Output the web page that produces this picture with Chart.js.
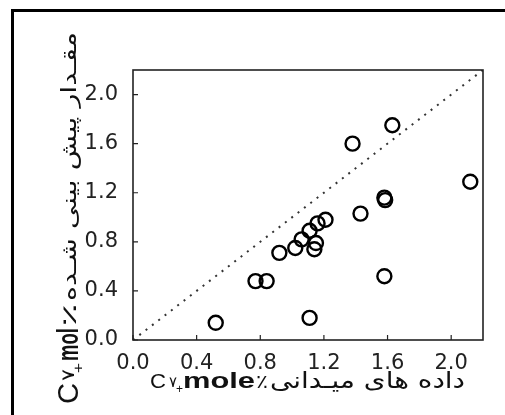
<!DOCTYPE html>
<html>
<head>
<meta charset="utf-8">
<script src="https://cdn.jsdelivr.net/npm/chart.js@4/dist/chart.umd.min.js"></script>
<style>
html,body{margin:0;padding:0;background:#fff;}
#wrap{position:relative;width:505px;height:415px;}
</style>
</head>
<body>
<div id="wrap"><canvas id="c" width="505" height="415"></canvas></div>
<script>
// ---- data ----
const fieldX = [0.52, 1.11, 0.77, 0.84, 0.92, 1.02, 1.06, 1.11, 1.14, 1.15, 1.16, 1.21, 1.38, 1.63, 1.43, 1.58, 1.585, 1.58, 2.12];
const predY  = [0.14, 0.18, 0.48, 0.48, 0.71, 0.75, 0.82, 0.89, 0.74, 0.79, 0.95, 0.98, 1.60, 1.75, 1.03, 1.16, 1.14, 0.52, 1.29];
const refLine = [0, 2.2];                 // y = x reference line end points
const tickValues = [0, 0.4, 0.8, 1.2, 1.6, 2.0];
const tickLabels = ["0.0", "0.4", "0.8", "1.2", "1.6", "2.0"];
const axisMin = 0, axisMax = 2.2;

const points = fieldX.map((x, i) => ({x: x, y: predY[i]}));
const line = refLine.map(v => ({x: v, y: v}));

function drawPieces(ctx, pieces) {
  pieces.forEach(p => {
    ctx.save();
    ctx.font = p.font;
    ctx.textBaseline = 'alphabetic';
    ctx.textAlign = 'left';
    ctx.fillStyle = '#111';
    const w = ctx.measureText(p.t).width;
    ctx.translate(p.u0, p.v);
    ctx.scale((p.u1 - p.u0) / w, 1);
    ctx.fillText(p.t, 0, 0);
    ctx.restore();
  });
}

const decor = {
  id: 'decor',
  beforeDraw(chart) {
    const ctx = chart.ctx;
    ctx.save();
    ctx.fillStyle = '#fff';
    ctx.fillRect(0, 0, chart.width, chart.height);
    ctx.fillStyle = '#000';
    ctx.fillRect(11, 9, 3, chart.height);
    ctx.fillRect(11, 9, chart.width, 3);
    ctx.restore();
  },
  afterDraw(chart) {
    const ctx = chart.ctx;
    const a = chart.chartArea;
    const xs = chart.scales.x, ys = chart.scales.y;
    ctx.save();
    ctx.strokeStyle = '#222';
    ctx.lineWidth = 1.6;
    ctx.strokeRect(a.left, a.top, a.right - a.left, a.bottom - a.top);
    ctx.lineWidth = 1.2;
    ctx.beginPath();
    tickValues.forEach(v => {
      const px = xs.getPixelForValue(v);
      ctx.moveTo(px, a.bottom); ctx.lineTo(px, a.bottom - 5);
      const py = ys.getPixelForValue(v);
      ctx.moveTo(a.left, py); ctx.lineTo(a.left + 5, py);
    });
    ctx.stroke();
    ctx.restore();

    // x-axis title (mixed Latin / Persian)
    const bx = 388;
    drawPieces(ctx, [
      {t: 'C', font: '21px "Liberation Sans"', u0: 150, u1: 166, v: bx},
      {t: '۷', font: '15px "DejaVu Sans"', u0: 169, u1: 177, v: bx - 1},
      {t: '+', font: '12px "Liberation Sans"', u0: 176, u1: 183, v: bx + 5},
      {t: 'mole', font: 'bold 22px "Liberation Sans"', u0: 183, u1: 255, v: bx},
      {t: '٪', font: '19px "DejaVu Sans"', u0: 256, u1: 268, v: bx},
      {t: 'داده های میـدانی', font: '23px "DejaVu Sans"', u0: 270, u1: 465, v: bx}
    ]);

    // y-axis title, rotated
    ctx.save();
    ctx.translate(77, 0);
    ctx.rotate(-Math.PI / 2);
    drawPieces(ctx, [
      {t: 'C', font: '30px "Liberation Sans"', u0: -404, u1: -383, v: 1},
      {t: '۷', font: '18px "DejaVu Sans"', u0: -381, u1: -369, v: -3},
      {t: '+', font: '14px "Liberation Sans"', u0: -373, u1: -363, v: 6},
      {t: 'mol', font: 'bold 30px "Liberation Sans"', u0: -361, u1: -328, v: 1},
      {t: '٪', font: '20px "DejaVu Sans"', u0: -327, u1: -303, v: -1},
      {t: 'مقـدار پیش بینی شـده', font: '21px "DejaVu Sans"', u0: -301, u1: -32, v: -1}
    ]);
    ctx.restore();
  }
};

const tickFont = {family: '"DejaVu Sans"', size: 21};

new Chart(document.getElementById('c'), {
  data: {
    datasets: [
      {
        type: 'scatter',
        data: points,
        pointStyle: 'circle',
        pointRadius: 7,
        pointHoverRadius: 7,
        borderColor: '#000',
        backgroundColor: 'rgba(0,0,0,0)',
        borderWidth: 2.4,
        order: 1
      },
      {
        type: 'line',
        data: line,
        borderColor: '#333',
        borderWidth: 2,
        borderDash: [2, 6],
        pointRadius: 0,
        fill: false,
        order: 2
      }
    ]
  },
  options: {
    responsive: false,
    animation: false,
    events: [],
    layout: {padding: {top: 70, right: 22, left: 0, bottom: 0}},
    plugins: {legend: {display: false}, tooltip: {enabled: false}},
    scales: {
      x: {
        type: 'linear', min: axisMin, max: axisMax,
        grid: {display: false},
        border: {display: false},
        afterBuildTicks: s => { s.ticks = tickValues.map(v => ({value: v})); },
        afterFit: s => { s.height = 75; },
        ticks: {
          font: tickFont, color: '#222', padding: 3, maxRotation: 0, autoSkip: false,
          callback: (v) => tickLabels[tickValues.indexOf(v)]
        }
      },
      y: {
        type: 'linear', min: axisMin, max: axisMax,
        grid: {display: false},
        border: {display: false},
        afterBuildTicks: s => { s.ticks = tickValues.map(v => ({value: v})); },
        afterFit: s => { s.width = 133; },
        ticks: {
          font: tickFont, color: '#222', padding: 7, autoSkip: false,
          callback: (v) => tickLabels[tickValues.indexOf(v)]
        }
      }
    }
  },
  plugins: [decor]
});
</script>
</body>
</html>
